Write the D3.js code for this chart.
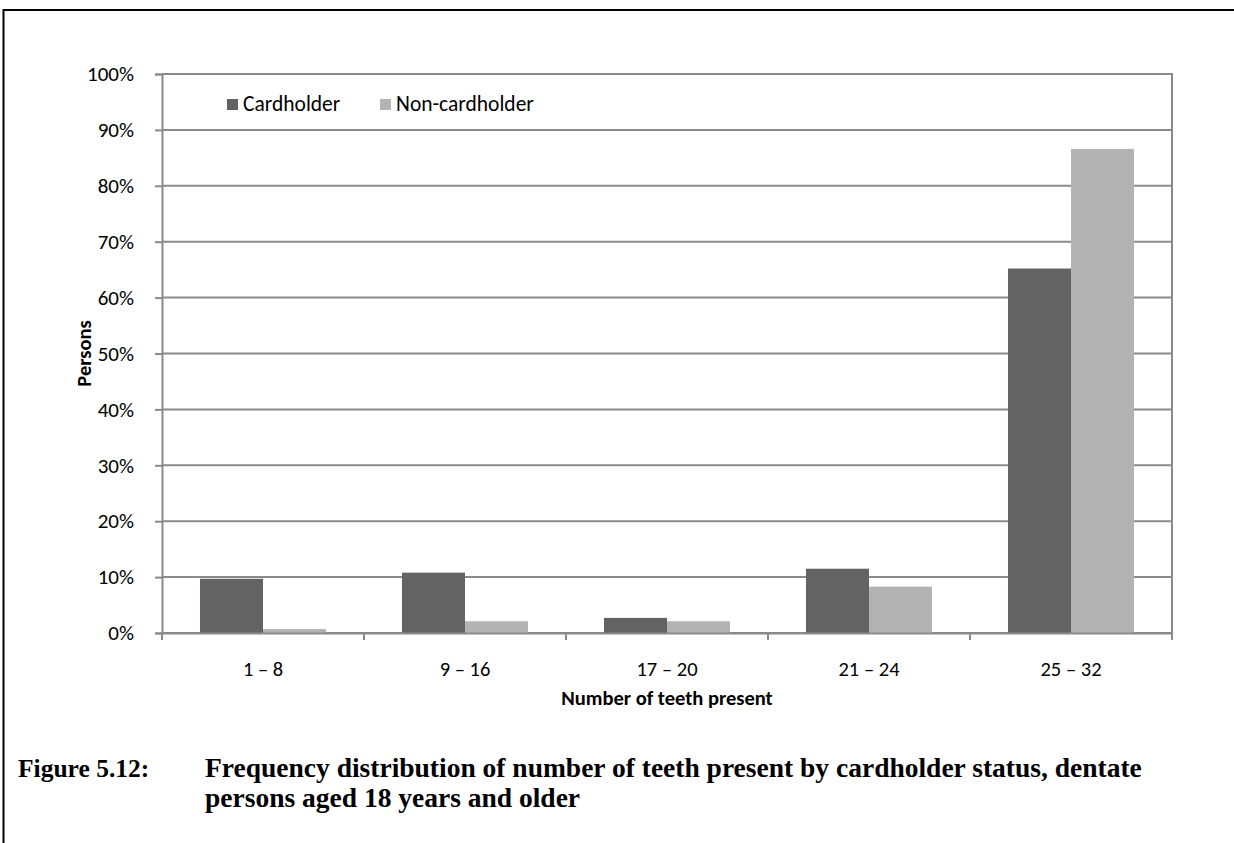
<!DOCTYPE html>
<html><head><meta charset="utf-8">
<script src="https://cdn.jsdelivr.net/npm/d3@7"></script>
<style>
body{margin:0;background:#fff;}
svg{display:block;}
</style></head>
<body>
<svg id="chart" width="1234" height="843"></svg>
<script>
const categories = ["1 \u2013 8", "9 \u2013 16", "17 \u2013 20", "21 \u2013 24", "25 \u2013 32"];
const seriesNames = ["Cardholder", "Non-cardholder"];
const cardholder = [9.7, 10.8, 2.7, 11.5, 65.2];
const nonCardholder = [0.7, 2.1, 2.1, 8.3, 86.6];
const yTicks = [0, 10, 20, 30, 40, 50, 60, 70, 80, 90, 100];
const colors = ["#636363", "#b3b3b3"];
const captionLabel = "Figure 5.12:";
const captionLines = ["Frequency distribution of number of teeth present by cardholder status, dentate",
                      "persons aged 18 years and older"];

const svg = d3.select("#chart");
const m = {left:162, right:1172, top:74, bottom:633};
const sans = "Calibri, Carlito, 'Open Sans', sans-serif";

// outer frame
svg.append("line").attr("x1",3).attr("x2",1234).attr("y1",10).attr("y2",10).attr("stroke","#000").attr("stroke-width",2);
svg.append("line").attr("x1",3.5).attr("x2",3.5).attr("y1",9).attr("y2",843).attr("stroke","#000").attr("stroke-width",2);

const x0 = d3.scaleBand().domain(categories).range([m.left, m.right]).padding(0);
const bw = x0.bandwidth();
const x1 = d3.scaleBand().domain(seriesNames).range([bw*0.188, bw*0.812]).padding(0);
const y = d3.scaleLinear().domain([0,100]).range([m.bottom, m.top]);

// gridlines
svg.append("g").selectAll("line").data(yTicks).join("line")
  .attr("x1", m.left).attr("x2", m.right)
  .attr("y1", d=>y(d)).attr("y2", d=>y(d))
  .attr("stroke","#8a8a8a").attr("stroke-width",2);

// y axis
const yAxis = svg.append("g").attr("transform",`translate(${m.left},0)`)
  .call(d3.axisLeft(y).tickValues(yTicks).tickFormat(d=>d+"%").tickSize(7).tickPadding(21));
yAxis.select(".domain").attr("stroke","#8a8a8a").attr("stroke-width",2);
yAxis.selectAll(".tick line").attr("stroke","#8a8a8a").attr("stroke-width",2);
yAxis.selectAll("text").attr("font-family",sans).attr("font-size",21).attr("fill","#000");

// right border
svg.append("line").attr("x1",m.right).attr("x2",m.right).attr("y1",m.top-1).attr("y2",m.bottom+7)
  .attr("stroke","#8a8a8a").attr("stroke-width",2);

// bars
const data = categories.map((c,i)=>({cat:c, vals:[cardholder[i], nonCardholder[i]]}));
const groups = svg.append("g").selectAll("g").data(data).join("g")
  .attr("transform", d=>`translate(${x0(d.cat)},0)`);
groups.selectAll("rect").data(d=>d.vals.map((v,j)=>({s:seriesNames[j], v, j}))).join("rect")
  .attr("x", d=>x1(d.s)).attr("width", x1.bandwidth())
  .attr("y", d=>y(d.v)).attr("height", d=>y(0)-y(d.v))
  .attr("fill", d=>colors[d.j]);

// x axis
const xAxis = svg.append("g").attr("transform",`translate(0,${m.bottom})`)
  .call(d3.axisBottom(x0).tickSize(0).tickPadding(28));
xAxis.select(".domain").attr("stroke","#8a8a8a").attr("stroke-width",2);
xAxis.selectAll("text").attr("font-family",sans).attr("font-size",20.5).attr("fill","#000");
// boundary ticks
const bounds = categories.map(c=>x0(c)).concat([m.right]);
svg.append("g").selectAll("line").data(bounds).join("line")
  .attr("x1",d=>d).attr("x2",d=>d).attr("y1",m.bottom).attr("y2",m.bottom+7)
  .attr("stroke","#8a8a8a").attr("stroke-width",2);

// axis titles
svg.append("text").attr("transform",`translate(91,${(m.top+m.bottom)/2}) rotate(-90)`)
  .attr("text-anchor","middle").attr("font-family",sans).attr("font-weight","bold").attr("font-size",20.5)
  .text("Persons");
svg.append("text").attr("x",(m.left+m.right)/2).attr("y",705)
  .attr("text-anchor","middle").attr("font-family",sans).attr("font-weight","bold").attr("font-size",20.5)
  .text("Number of teeth present");

// legend
const legX = [227, 380];
const leg = svg.append("g").selectAll("g").data(seriesNames).join("g")
  .attr("transform",(d,i)=>`translate(${legX[i]},99)`);
leg.append("rect").attr("width",11).attr("height",11).attr("fill",(d,i)=>colors[i]);
leg.append("text").attr("x",16).attr("y",12).attr("font-family",sans).attr("font-size",21.5).attr("fill","#000").text(d=>d);

// caption
const serif = "'Book Antiqua', Palatino, 'Liberation Serif', serif";
svg.append("text").attr("x",18).attr("y",777).attr("font-family",serif).attr("font-weight","bold").attr("font-size",25.5).text(captionLabel);
svg.append("g").selectAll("text").data(captionLines).join("text")
  .attr("x",205).attr("y",(d,i)=>777+i*30).attr("font-family",serif).attr("font-weight","bold").attr("font-size",27.5).text(d=>d);
</script>
</body></html>
